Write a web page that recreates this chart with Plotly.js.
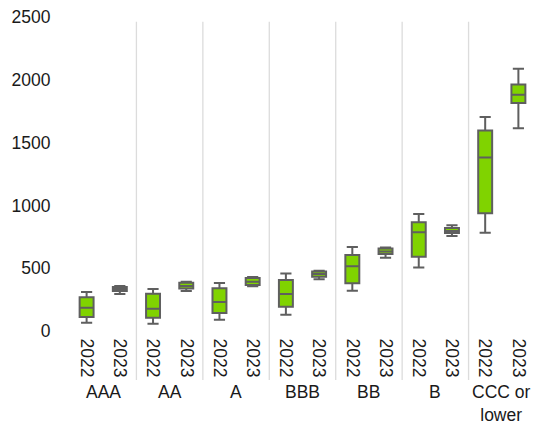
<!DOCTYPE html>
<html>
<head>
<meta charset="utf-8">
<script src="https://cdn.plot.ly/plotly-3.0.1.min.js"></script>
<style>html,body{margin:0;padding:0;background:#fff;}#chart{width:535px;height:427px;}</style>
</head>
<body>
<div id="chart"></div>
<script>
// Rating groups and years
var groups = ['AAA', 'AA', 'A', 'BBB', 'BB', 'B', 'CCC or<br>lower'];
var years = ['2022', '2023'];

// Box statistics per group, [2022, 2023]
var lowerFence = { '2022': [66, 58, 90, 130, 321, 505, 783],      '2023': [295, 319, 356, 412, 584, 757, 1615] };
var q1Values   = { '2022': [112, 106, 143, 194, 380, 592, 938],   '2023': [318, 338, 366, 432, 614, 781, 1815] };
var medians    = { '2022': [186, 178, 231, 295, 516, 786, 1381],  '2023': [335, 359, 393, 454, 632, 797, 1881] };
var q3Values   = { '2022': [269, 297, 340, 406, 606, 866, 1596],  '2023': [350, 385, 422, 474, 657, 821, 1963] };
var upperFence = { '2022': [311, 335, 383, 457, 669, 932, 1703],  '2023': [358, 392, 430, 480, 664, 842, 2088] };

var xCats = [], xText = [], lf = [], q1 = [], med = [], q3 = [], uf = [];
groups.forEach(function (g, i) {
  years.forEach(function (yr) {
    xCats.push(g + ' ' + yr); xText.push(yr);
    lf.push(lowerFence[yr][i]); q1.push(q1Values[yr][i]); med.push(medians[yr][i]);
    q3.push(q3Values[yr][i]); uf.push(upperFence[yr][i]);
  });
});

var trace = {
  type: 'box',
  x: xCats,
  lowerfence: lf, q1: q1, median: med, q3: q3, upperfence: uf,
  fillcolor: '#80d300',
  line: { color: '#5f5f5f', width: 2 },
  width: 0.42,
  whiskerwidth: 0.8,
  boxpoints: false,
  hoverinfo: 'skip',
  showlegend: false
};

// Vertical separators between rating groups, and group labels
var shapes = [];
for (var k = 1; k < groups.length; k++) {
  shapes.push({ type: 'line', xref: 'paper', yref: 'paper', x0: k / groups.length, x1: k / groups.length,
    y0: -0.156, y1: 0.985, line: { color: '#dcdcdc', width: 1.3 }, layer: 'below' });
}
var annotations = groups.map(function (g, i) {
  return { xref: 'x', yref: 'paper', x: 2 * i + 0.5, y: -0.156, yanchor: 'top', xanchor: 'center',
    text: g, showarrow: false, font: { size: 17.5, color: '#1a1a1a' } };
});

var layout = {
  width: 535, height: 427,
  margin: { l: 70, r: 0, t: 17, b: 96, pad: 0 },
  paper_bgcolor: '#ffffff', plot_bgcolor: '#ffffff',
  font: { family: 'Liberation Sans, Arial, sans-serif', size: 17.5, color: '#1a1a1a' },
  showlegend: false,
  xaxis: {
    type: 'category',
    categoryarray: xCats, categoryorder: 'array',
    tickvals: xCats, ticktext: xText,
    tickangle: 90,
    range: [-0.5, xCats.length - 0.5],
    showgrid: false, zeroline: false, showline: false,
    ticks: 'outside', ticklen: 3, tickcolor: 'rgba(0,0,0,0)', automargin: false,
    tickfont: { size: 17.5, color: '#1a1a1a' }
  },
  yaxis: {
    range: [0, 2500],
    tickvals: [0, 500, 1000, 1500, 2000, 2500],
    showgrid: false, zeroline: false, showline: false,
    ticks: 'outside', ticklen: 15, tickcolor: 'rgba(0,0,0,0)',
    automargin: false,
    tickfont: { size: 17.5, color: '#1a1a1a' }
  },
  shapes: shapes,
  annotations: annotations
};

Plotly.newPlot('chart', [trace], layout, { displayModeBar: false, staticPlot: true });
</script>
</body>
</html>
